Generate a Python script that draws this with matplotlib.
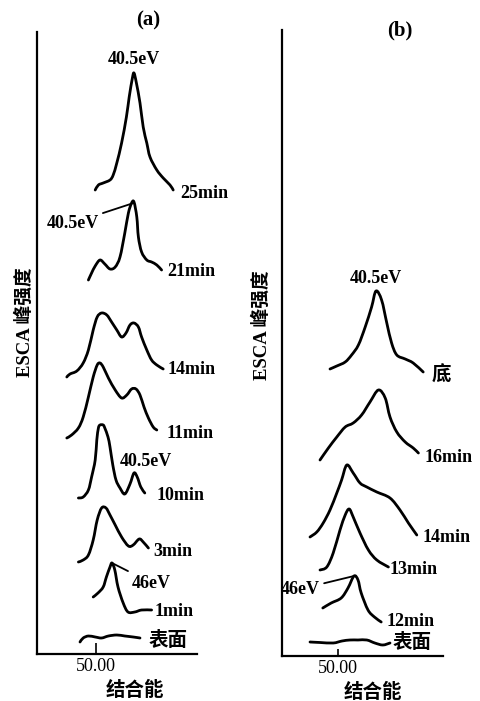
import matplotlib.pyplot as plt
from matplotlib.path import Path
from matplotlib.patches import PathPatch

plt.rcParams["font.family"] = ["Liberation Serif", "Noto Sans CJK SC"]

# panel (a): binding energy (eV) and relative intensity above each curve's offset
a_names = ["25min", "21min", "14min", "11min", "10min", "3min", "1min", "表面"]
a_offsets = [460, 370, 275, 215, 155, 90, 40, 10]

a25_ev = [50.2, 49.4, 48.2, 46.5, 45.7, 44.8, 43.6, 42.4, 41.7, 40.9, 40.5, 39.9, 39.0, 38.2, 37.3, 36.5, 34.8, 33.2, 31.5, 30.7]
a25_int = [4, 9, 11, 14, 19, 31, 51, 77, 97, 116, 121, 111, 91, 67, 51, 37, 24, 16, 9, 4]
a21_ev = [51.9, 51.1, 50.2, 49.0, 47.8, 46.5, 45.2, 44.0, 42.8, 41.9, 41.1, 40.5, 39.8, 39.4, 38.6, 37.3, 36.1, 34.8, 33.6]
a21_int = [4, 11, 18, 24, 20, 15, 17, 27, 51, 71, 81, 82, 67, 47, 32, 24, 22, 19, 14]
a14_ev = [57.3, 56.5, 54.8, 53.2, 51.9, 50.7, 49.7, 48.6, 47.3, 46.1, 44.8, 43.6, 42.5, 41.5, 40.5, 39.4, 38.6, 37.3, 36.1, 34.8, 33.2]
a14_int = [2, 5, 8, 16, 29, 49, 62, 66, 64, 57, 49, 42, 46, 54, 56, 52, 42, 29, 19, 14, 10]
a11_ev = [57.3, 56.1, 54.4, 53.2, 51.9, 50.7, 49.7, 49.0, 48.2, 46.9, 45.2, 43.6, 42.3, 41.1, 40.0, 39.0, 38.0, 36.9, 35.7, 34.8]
a11_int = [1, 4, 11, 22, 42, 62, 74, 76, 72, 61, 49, 41, 44, 50, 50, 44, 32, 21, 12, 9]
a10_ev = [54.4, 53.2, 51.9, 51.1, 50.2, 49.8, 49.4, 49.0, 48.2, 47.8, 47.0, 46.5, 45.8, 45.0, 44.0, 42.8, 41.5, 40.5, 39.7, 38.8, 37.8]
a10_int = [1, 2, 9, 22, 39, 59, 71, 74, 74, 71, 62, 52, 34, 19, 11, 5, 15, 26, 22, 12, 6]
a3_ev = [54.4, 53.2, 51.9, 50.7, 49.7, 48.6, 47.5, 46.5, 45.2, 43.6, 41.9, 40.7, 39.2, 38.2, 36.9]
a3_int = [2, 4, 9, 24, 44, 56, 56, 49, 39, 27, 18, 19, 25, 22, 16]
a1_ev = [50.7, 49.5, 48.2, 47.4, 46.5, 46.0, 45.3, 44.5, 43.2, 42.0, 40.3, 38.6, 36.1]
a1_int = [17, 21, 27, 37, 47, 51, 44, 27, 11, 2, 2, 4, 4]
a0_ev = [54.0, 53.2, 51.9, 50.2, 48.6, 46.9, 44.8, 42.8, 40.7, 39.0]
a0_int = [2, 6, 8, 7, 6, 8, 9, 8, 7, 6]

# panel (b)
b_names = ["底", "16min", "14min", "13min", "12min", "表面"]
b_offsets = [280, 195, 115, 85, 30, 10]

bb_ev = [52.0, 50.3, 48.2, 46.6, 44.9, 43.2, 41.6, 40.5, 39.1, 37.8, 36.6, 35.3, 33.2, 31.2, 28.7]
bb_int = [7, 10, 14, 21, 31, 49, 69, 85, 76, 53, 33, 21, 17, 13, 4]
b16_ev = [54.5, 52.4, 50.3, 48.2, 46.2, 44.1, 42.0, 39.9, 38.2, 37.0, 35.3, 33.2, 31.2, 29.9]
b16_int = [1, 13, 24, 34, 38, 46, 59, 71, 63, 44, 29, 19, 13, 8]
b14_ev = [57.0, 55.3, 53.7, 52.0, 50.3, 49.1, 47.8, 46.2, 44.5, 42.8, 40.3, 37.0, 34.5, 32.4, 30.3]
b14_int = [4, 9, 18, 31, 48, 61, 76, 68, 58, 54, 49, 43, 31, 18, 6]
b13_ev = [54.5, 52.8, 51.2, 49.5, 48.2, 47.2, 46.2, 44.5, 42.4, 40.3, 37.4]
b13_int = [1, 4, 18, 41, 56, 62, 54, 38, 21, 11, 4]
b12_ev = [53.8, 51.7, 49.2, 47.5, 46.0, 45.0, 44.2, 42.5, 40.9, 39.2]
b12_int = [18, 23, 28, 38, 50, 46, 33, 16, 9, 4]
b0_ev = [57.0, 54.5, 51.2, 49.0, 47.0, 45.0, 42.8, 40.8, 38.8, 37.0]
b0_int = [4, 3.5, 3, 5, 6, 6, 6, 3, 1, 3]

a_ev = [a25_ev, a21_ev, a14_ev, a11_ev, a10_ev, a3_ev, a1_ev, a0_ev]
a_int = [a25_int, a21_int, a14_int, a11_int, a10_int, a3_int, a1_int, a0_int]
b_ev = [bb_ev, b16_ev, b14_ev, b13_ev, b12_ev, b0_ev]
b_int = [bb_int, b16_int, b14_int, b13_int, b12_int, b0_int]

FS = 13      # latin labels
FS_CJK = 14  # chinese labels
W, H = 480, 701

fig = plt.figure(figsize=(W / 100, H / 100), dpi=100)
ax_a = fig.add_axes([37 / W, 1 - 654 / H, 160 / W, 622 / H])
ax_b = fig.add_axes([282 / W, 1 - 656 / H, 161 / W, 626 / H])
ax_a.set_xlim(64.75, 24.75)
ax_a.set_ylim(0, 622)
ax_b.set_xlim(64.0, 23.75)
ax_b.set_ylim(0, 626)


def smooth_path(xs, ys):
    # catmull-rom through every point, written as cubic bezier segments
    pts = list(zip(xs, ys))
    pts = [pts[0]] + pts + [pts[-1]]
    verts = [pts[1]]
    codes = [Path.MOVETO]
    for i in range(1, len(pts) - 2):
        p0, p1, p2, p3 = pts[i - 1], pts[i], pts[i + 1], pts[i + 2]
        c1 = (p1[0] + (p2[0] - p0[0]) / 6, p1[1] + (p2[1] - p0[1]) / 6)
        c2 = (p2[0] - (p3[0] - p1[0]) / 6, p2[1] - (p3[1] - p1[1]) / 6)
        verts += [c1, c2, p2]
        codes += [Path.CURVE4] * 3
    return Path(verts, codes)


def draw_stack(ax, evs, ints, offsets, names, label_pos):
    for ev, y, off, name, pos in zip(evs, ints, offsets, names, label_pos):
        path = smooth_path(ev, [off + v for v in y])
        ax.add_patch(PathPatch(path, fill=False, edgecolor="black", lw=2.0,
                               joinstyle="round", capstyle="round"))
        size = FS if name.endswith("min") else FS_CJK
        ax.text(pos[0], pos[1], name, fontsize=size, fontweight="bold",
                ha="left", va="center")


def style_axes(ax, ticklen):
    for side in ("top", "right"):
        ax.spines[side].set_visible(False)
    for side in ("left", "bottom"):
        ax.spines[side].set_linewidth(1.6)
    ax.set_yticks([])
    ax.set_xticks([50])
    ax.set_xticklabels(["50.00"])
    ax.tick_params(axis="x", direction="in", length=ticklen, width=1.2,
                   labelsize=FS, pad=3)


# curve label positions (eV, height)
a_label_pos = [(29.0, 461), (32.25, 383), (32.0, 284), (32.25, 221),
               (34.75, 159), (35.75, 102), (35.25, 42), (36.75, 14)]
b_label_pos = [(26.5, 281), (28.25, 199), (28.75, 118), (37.0, 86),
               (37.75, 34), (36.25, 13)]

draw_stack(ax_a, a_ev, a_int, a_offsets, a_names, a_label_pos)
draw_stack(ax_b, b_ev, b_int, b_offsets, b_names, b_label_pos)
style_axes(ax_a, 8)
style_axes(ax_b, 5)

peak_kw = dict(fontsize=FS, fontweight="bold")
line_kw = dict(arrowstyle="-", lw=1.3, color="black", shrinkA=1, shrinkB=0)

ax_a.text(40.5, 594, "40.5eV", ha="center", va="center", **peak_kw)
ax_a.annotate("40.5eV", xy=(40.6, 451), xytext=(49.3, 431),
              ha="right", va="center", arrowprops=line_kw, **peak_kw)
ax_a.text(44.0, 192, "40.5eV", ha="left", va="center", **peak_kw)
ax_a.annotate("46eV", xy=(46.0, 91), xytext=(41.0, 71),
              ha="left", va="center", arrowprops=line_kw, **peak_kw)

ax_b.text(40.5, 378, "40.5eV", ha="center", va="center", **peak_kw)
ax_b.annotate("46eV", xy=(46.0, 80), xytext=(54.5, 67),
              ha="right", va="center", arrowprops=line_kw, **peak_kw)

fig.text(148 / W, 1 - 20 / H, "(a)", fontsize=15, fontweight="bold",
         ha="center", va="center")
fig.text(400 / W, 1 - 30 / H, "(b)", fontsize=15, fontweight="bold",
         ha="center", va="center")

for x, y in ((135, 690), (373, 692)):
    fig.text(x / W, 1 - y / H, "结合能", fontsize=FS_CJK, fontweight="bold",
             ha="center", va="center")
for x, y in ((25, 322), (262, 325)):
    fig.text(x / W, 1 - y / H, "ESCA 峰强度", fontsize=13.5, fontweight="bold",
             rotation=90, ha="center", va="center")

fig.savefig("out.png", dpi=100)
